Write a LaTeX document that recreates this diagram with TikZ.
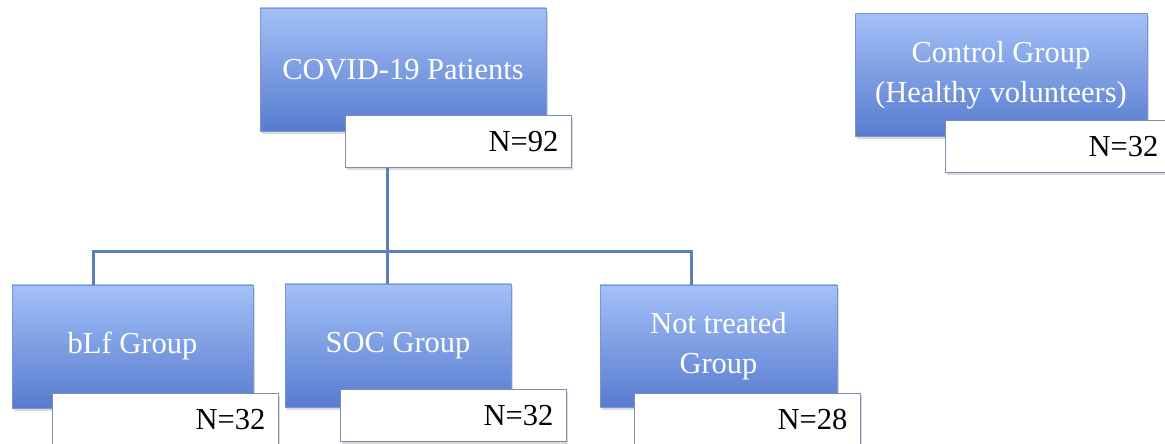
\documentclass[tikz,border=0pt]{standalone}
\usepackage{fontspec}
\setmainfont{Liberation Serif}
\usetikzlibrary{shadows}
\definecolor{boxtop}{RGB}{163,192,247}
\definecolor{boxbot}{RGB}{88,123,207}
\definecolor{boxline}{RGB}{120,150,210}
\definecolor{linkcol}{RGB}{92,125,192}
\definecolor{numline}{RGB}{125,140,175}
\tikzset{
    group/.style={draw=boxline, line width=0.8pt, top color=boxtop, bottom color=boxbot,
        text=white, align=center, minimum height=123pt,
        font=\fontsize{30.5}{40}\selectfont,
        drop shadow={opacity=0.3, shadow xshift=2pt, shadow yshift=-3pt}},
    numbox/.style={draw=numline, line width=0.8pt, fill=white, anchor=north west,
        minimum width=226pt, minimum height=52pt, text width=200pt, inner sep=13pt,
        align=right, font=\fontsize{30.5}{34}\selectfont,
        drop shadow={opacity=0.3, shadow xshift=2pt, shadow yshift=-3pt}},
    link/.style={draw=linkcol, line width=3pt}
}
\begin{document}
\begin{tikzpicture}[x=1pt, y=1pt]
        \useasboundingbox (0,0) rectangle (1165,444);
        % patients
        \node[group, minimum width=286pt] (covid) at (403,374.5) {COVID-19 Patients};
        \node[numbox] (n92) at (345,329) {N=92};
        % control
        \node[group, minimum width=292pt] (ctrl) at (1001,369) {Control Group\\(Healthy volunteers)};
        \node[numbox] (nctrl) at (945,324) {N=32};
        % treatment groups
        \node[group, minimum width=241pt] (blf) at (132.5,97.5) {bLf Group};
        \node[numbox] (nblf) at (52,51) {N=32};
        \node[group, minimum width=226pt] (soc) at (398,98.5) {SOC Group};
        \node[numbox] (nsoc) at (340,55) {N=32};
        \node[group, minimum width=237pt, minimum height=122pt] (nt) at (718.5,98) {Not treated\\Group};
        \node[numbox] (nnt) at (634,51) {N=28};
        % tree
        \coordinate (hub) at (387,192);
        \draw[link] (hub |- n92.south) -- (hub |- soc.north);
        \draw[link] ([xshift=-39.5pt]blf.north) |- (hub) -| ([xshift=-27.5pt]nt.north);
    \end{tikzpicture}
\end{document}
